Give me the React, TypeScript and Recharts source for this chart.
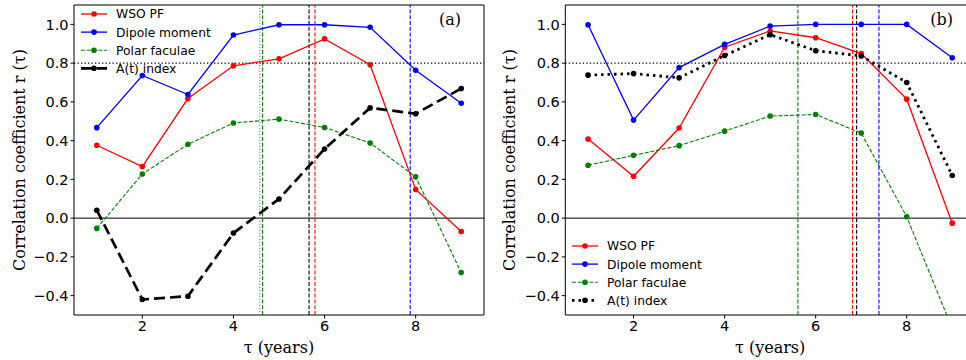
import React from 'react';
import { LineChart, Line, XAxis, YAxis, ReferenceLine, ReferenceArea, Legend, Label } from 'recharts';

// time lag tau (years)
const taus = [1, 2, 3, 4, 5, 6, 7, 8, 9];

// panel (a)
const wsoA = [0.376, 0.266, 0.617, 0.786, 0.822, 0.925, 0.792, 0.148, -0.069];
const dipoleA = [0.467, 0.736, 0.638, 0.945, 0.998, 0.998, 0.985, 0.763, 0.593];
const facA = [-0.053, 0.228, 0.381, 0.491, 0.511, 0.468, 0.388, 0.213, -0.281];
const atA = [0.041, -0.42, -0.403, -0.077, 0.099, 0.357, 0.569, 0.539, 0.669];

// panel (b)
const wsoB = [0.408, 0.216, 0.465, 0.882, 0.966, 0.931, 0.849, 0.614, -0.026];
const dipoleB = [0.998, 0.506, 0.777, 0.897, 0.991, 1.0, 1.0, 1.0, 0.828];
const facB = [0.273, 0.324, 0.374, 0.449, 0.527, 0.535, 0.439, 0.007, -0.57];
const atB = [0.738, 0.746, 0.724, 0.839, 0.947, 0.864, 0.837, 0.7, 0.22];

// lags of max correlation: [A(t) dotted ref, faculae, A(t), WSO, dipole]
const peaksA = [4.58, 4.64, 5.66, 5.79, 7.88];
// [faculae, WSO, A(t), dipole]
const peaksB = [5.61, 6.81, 6.9, 7.39];

const xTicks = [2, 4, 6, 8];
const yTicks = [-0.4, -0.2, 0, 0.2, 0.4, 0.6, 0.8, 1.0];
const threshold = 0.8;

const seriesNames = ['WSO PF', 'Dipole moment', 'Polar faculae', 'A(t) index'];

const SANS = '"DejaVu Sans", sans-serif';
const SERIF = '"DejaVu Serif", serif';
const RED = '#ff0000';
const BLUE = '#0000ff';
const GREEN = '#008000';

const fmtY = (v: number) => v.toFixed(1).replace('-', '\u2212');

const buildRows = (wso: number[], dip: number[], fac: number[], at: number[]) =>
  taus.map((t, i) => ({ tau: t, wso: wso[i], dipole: dip[i], fac: fac[i], at: at[i] }));

const LegendBox = ({ atDash, atWidth }: { atDash: string; atWidth: number }) => {
  const styles = [
    { color: RED, dash: undefined, w: 1.3 },
    { color: BLUE, dash: undefined, w: 1.3 },
    { color: GREEN, dash: '4 1.8', w: 1.1 },
    { color: '#000', dash: atDash, w: atWidth },
  ];
  return (
    <svg width={140} height={76} style={{ overflow: 'visible', display: 'block' }}>
      {seriesNames.map((name, i) => (
        <g key={name} transform={`translate(0, ${i * 18.1})`}>
          <line x1={0} x2={26} y1={9} y2={9} stroke={styles[i].color} strokeWidth={styles[i].w} strokeDasharray={styles[i].dash} />
          <circle cx={13} cy={9} r={2.8} fill={styles[i].color} />
          <text x={35} y={9} dy="0.36em" fontSize={12.3} fontFamily={SANS} fill="#000">{name}</text>
        </g>
      ))}
    </svg>
  );
};

interface PanelProps {
  rows: any[];
  marginLeft: number;
  width: number;
  marginRight: number;
  titleX: number;
  tag: string;
  legendPos: { left: number; top: number };
  atDash: string;
  atWidth: number;
  vlines: { x: number; color: string; dash: string }[];
}

const Panel: React.FC<PanelProps> = ({ rows, marginLeft, width, marginRight, titleX, tag, legendPos, atDash, atWidth, vlines }) => {
  const plotLeft = marginLeft + 40;
  const plotRight = width - marginRight;
  const cx = (plotLeft + plotRight) / 2;
  return (
    <LineChart width={width} height={360} data={rows} margin={{ top: 5, right: marginRight, bottom: 0, left: marginLeft }}>
      <XAxis
        dataKey="tau"
        type="number"
        domain={[0.5, 9.5]}
        ticks={xTicks}
        allowDataOverflow
        height={45}
        tickSize={3.5}
        tickMargin={2}
        axisLine={false}
        tickLine={{ stroke: '#000' }}
        tick={{ fill: '#000', fontSize: 14.5, fontFamily: SANS }}
      >
        <Label
          content={() => (
            <text x={cx} y={347} textAnchor="middle" dominantBaseline="central" fontFamily={SERIF} fontSize={16} fill="#000">
              τ (years)
            </text>
          )}
        />
      </XAxis>
      <YAxis
        type="number"
        domain={[-0.5, 1.1]}
        ticks={yTicks}
        allowDataOverflow
        width={40}
        tickSize={3.5}
        tickMargin={2}
        axisLine={false}
        tickLine={{ stroke: '#000' }}
        tickFormatter={fmtY}
        tick={{ fill: '#000', fontSize: 14.5, fontFamily: SANS }}
      >
        <Label
          content={() => (
            <text
              x={titleX}
              y={160}
              transform={`rotate(-90 ${titleX} 160)`}
              textAnchor="middle"
              dominantBaseline="central"
              fontFamily={SERIF}
              fontSize={16}
              fill="#000"
            >
              Correlation coefficient r (τ)
            </text>
          )}
        />
      </YAxis>
      <ReferenceArea x1={0.5} x2={9.5} y1={-0.5} y2={1.1} fill="none" stroke="#000" strokeWidth={1} strokeOpacity={1}>
        <Label
          content={() => (
            <text x={plotLeft + (tag === '(a)' ? 376 : 376.4)} y={19} textAnchor="middle" dominantBaseline="central" fontFamily={SERIF} fontSize={16} fill="#000">
              {tag}
            </text>
          )}
        />
      </ReferenceArea>
      <ReferenceLine y={threshold} stroke="#000" strokeWidth={1.2} strokeDasharray="1.3 2.2" />
      <ReferenceLine y={0} stroke="#000" strokeWidth={1} />
      {vlines.map((v, i) => (
        <ReferenceLine key={i} x={v.x} stroke={v.color} strokeWidth={1.1} strokeDasharray={v.dash} />
      ))}
      <Line dataKey="wso" stroke={RED} strokeWidth={1.3} dot={{ r: 2.8, fill: RED, stroke: 'none' }} isAnimationActive={false} />
      <Line dataKey="dipole" stroke={BLUE} strokeWidth={1.3} dot={{ r: 2.8, fill: BLUE, stroke: 'none' }} isAnimationActive={false} />
      <Line dataKey="fac" stroke={GREEN} strokeWidth={1.1} strokeDasharray="4 1.8" dot={{ r: 2.8, fill: GREEN, stroke: 'none' }} isAnimationActive={false} />
      <Line dataKey="at" stroke="#000" strokeWidth={atWidth} strokeDasharray={atDash} dot={{ r: 2.8, fill: '#000', stroke: 'none' }} isAnimationActive={false} />
      <Legend
        layout="vertical"
        align="center"
        verticalAlign="middle"
        wrapperStyle={{ position: 'absolute', left: legendPos.left, top: legendPos.top, width: 'auto', height: 'auto' }}
        content={() => <LegendBox atDash={atDash} atWidth={atWidth} />}
      />
    </LineChart>
  );
};

const App: React.FC = () => {
  const rowsA = buildRows(wsoA, dipoleA, facA, atA);
  const rowsB = buildRows(wsoB, dipoleB, facB, atB);
  const vA = [
    { x: peaksA[0], color: '#808080', dash: '1.2 1.8' },
    { x: peaksA[1], color: GREEN, dash: '4 1.8' },
    { x: peaksA[2], color: '#000', dash: '4 1.8' },
    { x: peaksA[3], color: RED, dash: '4 1.8' },
    { x: peaksA[4], color: BLUE, dash: '4 1.8' },
  ];
  const vB = [
    { x: peaksB[0], color: GREEN, dash: '4 1.8' },
    { x: peaksB[1], color: RED, dash: '4 1.8' },
    { x: peaksB[2], color: '#000', dash: '4 1.8' },
    { x: peaksB[3], color: BLUE, dash: '4 1.8' },
  ];
  return (
    <div style={{ position: 'fixed', left: 0, top: 0, width: 966, height: 360, overflow: 'hidden', background: '#fff' }}>
      <div style={{ position: 'absolute', left: 0, top: 0 }}>
        <Panel
          rows={rowsA}
          marginLeft={34}
          width={490}
          marginRight={6}
          titleX={19}
          tag="(a)"
          legendPos={{ left: 81, top: 5.3 }}
          atDash="11 5"
          atWidth={2.7}
          vlines={vA}
        />
      </div>
      <div style={{ position: 'absolute', left: 480, top: 0 }}>
        <Panel
          rows={rowsB}
          marginLeft={45.3}
          width={500}
          marginRight={5}
          titleX={29}
          tag="(b)"
          legendPos={{ left: 92, top: 237.3 }}
          atDash="2.5 4"
          atWidth={2.8}
          vlines={vB}
        />
      </div>
    </div>
  );
};

export default App;
